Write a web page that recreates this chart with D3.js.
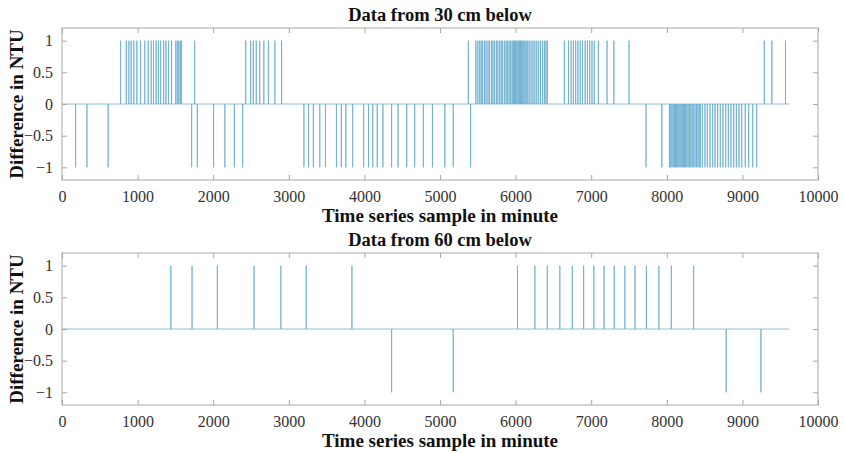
<!DOCTYPE html>
<html>
<head>
<meta charset="utf-8">
<script src="https://cdn.jsdelivr.net/npm/d3@7"></script>
<style>
  body { margin: 0; background: #fff; }
</style>
</head>
<body>
<script>
var FONT = "'Liberation Serif', 'Times New Roman', serif";

// x ticks and y ticks shared by both panels
var xTicks = [0, 1000, 2000, 3000, 4000, 5000, 6000, 7000, 8000, 9000, 10000];
var yTicks = [-1, -0.5, 0, 0.5, 1];
var lastSample = 9620;

// 30 cm below: sample index of +1 and -1 jumps
var up30 = [775, 850, 885, 915, 950, 990, 1040, 1095, 1140, 1180, 1210, 1245, 1275, 1305, 1345, 1375, 1410, 1450, 1505, 1525, 1545, 1565, 1580,
    1755, 2430, 2495, 2530, 2570, 2615, 2670, 2730, 2815, 2905,
    5375, 5475, 5500, 5525, 5545, 5565, 5590, 5610, 5635, 5655, 5680, 5700, 5720, 5745, 5765, 5790, 5810, 5830, 5855, 5875, 5895,
    5915, 5935, 5955, 5970, 5985, 6000, 6015, 6030, 6045, 6055, 6065, 6080, 6095, 6110, 6125, 6140, 6160, 6180, 6205, 6230, 6255,
    6280, 6305, 6330, 6355, 6380, 6400, 6420,
    6645, 6700, 6735, 6765, 6795, 6825, 6855, 6885, 6920, 6950, 6980, 7010, 7040, 7095, 7210, 7300, 7500,
    9290, 9390, 9570];
var down30 = [180, 330, 610, 1715, 1790, 2005, 2155, 2280, 2390,
    3200, 3260, 3325, 3410, 3485, 3630, 3695, 3755, 3845, 3990, 4055, 4110, 4170, 4245, 4360, 4445, 4560, 4665, 4780, 4900, 5065, 5175, 5405,
    7725, 7935, 8035, 8052, 8068, 8085, 8100, 8115, 8130, 8145, 8160, 8175, 8190, 8205, 8220, 8235, 8250, 8265, 8282,
    8300, 8318, 8336, 8355, 8374, 8393, 8412, 8428,
    8443, 8470, 8505, 8536, 8571, 8607, 8638, 8673, 8708, 8743, 8779, 8814, 8849, 8885, 8920, 8955, 8991, 9038, 9083, 9136, 9189];

// 60 cm below
var up60 = [1440, 1720, 2055, 2540, 2895, 3230, 3835, 6025, 6255, 6420, 6585, 6750, 6900, 7035, 7170, 7305, 7445, 7580, 7730, 7895, 8060, 8355];
var down60 = [4360, 5175, 8785, 9245];

var W = 844, H = 453;
var svg = d3.select("body").append("svg")
    .attr("width", W)
    .attr("height", H)
    .attr("font-family", FONT);

function buildSeries(up, down) {
    var spikes = up.map(function(d) { return [d, 1]; })
        .concat(down.map(function(d) { return [d, -1]; }));
    spikes.sort(function(a, b) { return a[0] - b[0]; });
    var pts = [[0, 0]];
    spikes.forEach(function(s) {
        pts.push([s[0], 0], [s[0], s[1]], [s[0], 0]);
    });
    pts.push([lastSample, 0]);
    return pts;
}

function drawPanel(top, title, up, down) {
    var left = 62, right = 818, height = 152;
    var g = svg.append("g").attr("transform", "translate(0," + top + ")");

    var x = d3.scaleLinear().domain([0, 10000]).range([left, right]);
    var y = d3.scaleLinear().domain([-1.2, 1.2]).range([height, 0]);

    var line = d3.line()
        .x(function(d) { return x(d[0]); })
        .y(function(d) { return y(d[1]); });

    g.append("path")
        .datum(buildSeries(up, down))
        .attr("fill", "none")
        .attr("stroke", "#6aafd0")
        .attr("stroke-width", 0.8)
        .attr("d", line);

    // box
    g.append("rect")
        .attr("x", left).attr("y", 0)
        .attr("width", right - left).attr("height", height)
        .attr("fill", "none").attr("stroke", "#a8a8a8").attr("stroke-width", 1);

    var tickStyle = function(sel) {
        sel.attr("font-family", FONT);
        sel.select(".domain").remove();
        sel.selectAll(".tick line").attr("stroke", "#a8a8a8");
        sel.selectAll(".tick text")
            .attr("fill", "#333")
            .attr("font-size", 16);
    };

    g.append("g")
        .attr("transform", "translate(0," + height + ")")
        .call(d3.axisBottom(x).tickValues(xTicks).tickFormat(d3.format("d")).tickSizeInner(-5).tickPadding(11))
        .call(tickStyle);
    g.append("g")
        .call(d3.axisTop(x).tickValues(xTicks).tickFormat("").tickSizeInner(-5))
        .call(tickStyle);
    g.append("g")
        .attr("transform", "translate(" + left + ",0)")
        .call(d3.axisLeft(y).tickValues(yTicks).tickFormat(function(d) { return d3.format("")(d); }).tickSizeInner(-5).tickPadding(9))
        .call(tickStyle);
    g.append("g")
        .attr("transform", "translate(" + right + ",0)")
        .call(d3.axisRight(y).tickValues(yTicks).tickFormat("").tickSizeInner(-5))
        .call(tickStyle);

    g.append("text")
        .attr("x", (left + right) / 2)
        .attr("y", -7)
        .attr("text-anchor", "middle")
        .attr("font-weight", "bold")
        .attr("font-size", 18.5)
        .attr("fill", "#111")
        .text(title);

    g.append("text")
        .attr("x", (left + right) / 2)
        .attr("y", height + 42)
        .attr("text-anchor", "middle")
        .attr("font-weight", "bold")
        .attr("font-size", 19)
        .attr("fill", "#111")
        .text("Time series sample in minute");

    g.append("text")
        .attr("transform", "translate(23," + (height / 2) + ") rotate(-90)")
        .attr("text-anchor", "middle")
        .attr("font-weight", "bold")
        .attr("font-size", 19)
        .attr("fill", "#111")
        .text("Difference in NTU");
}

drawPanel(28, "Data from 30 cm below", up30, down30);
drawPanel(253, "Data from 60 cm below", up60, down60);
</script>
</body>
</html>
